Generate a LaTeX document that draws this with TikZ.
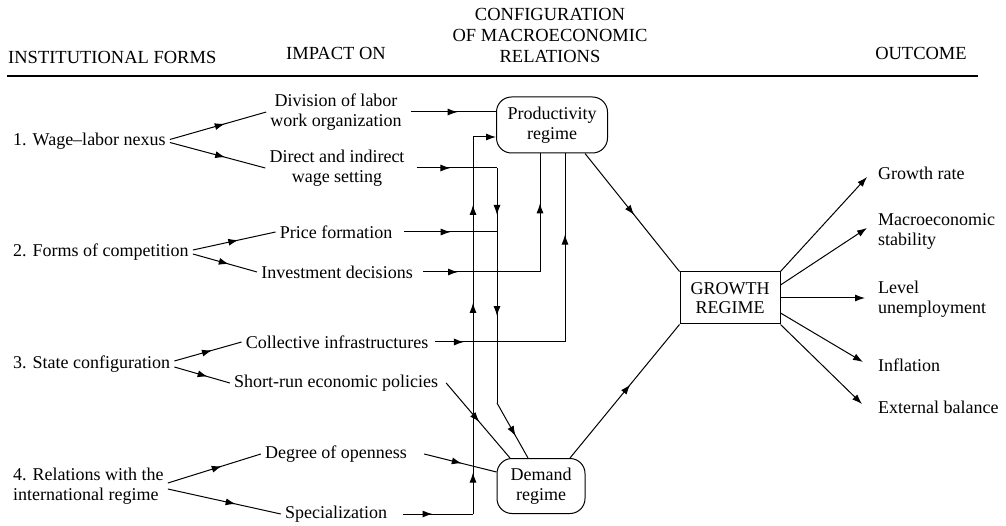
\documentclass[tikz,border=0pt]{standalone}
\usepackage{fontspec}
\setmainfont{Liberation Serif}
\newfontfamily\tms{Liberation Serif}
\usetikzlibrary{arrows.meta,decorations.markings,calc}
\newcommand{\myarrowtip}{\arrow{Latex[length=10pt,width=7pt]}}
\tikzset{
  hdr/.style={inner sep=0pt, font=\tms\fontsize{18.5}{21}\selectfont, align=center},
  lft/.style={inner xsep=4pt, inner ysep=0pt, anchor=west, align=left, font=\tms\fontsize{18}{20}\selectfont},
  mid/.style={inner xsep=4pt, inner ysep=0pt, align=center, font=\tms\fontsize{18}{20}\selectfont},
  outc/.style={inner sep=0pt, anchor=west, align=left, font=\tms\fontsize{18}{20}\selectfont},
  regime/.style={draw, line width=1pt, rounded corners=15pt, align=center, inner sep=0pt, font=\tms\fontsize{18}{20}\selectfont},
  growthbox/.style={draw, line width=1pt, align=center, inner sep=0pt, minimum width=100pt, minimum height=52pt, font=\tms\fontsize{18}{19.5}\selectfont},
  conn/.style={line width=1pt},
  tipend/.style={-{Latex[length=10pt,width=7pt]}},
  midarr/.style={postaction={decorate},decoration={markings,mark=at position #1 with {\myarrowtip}}},
  midtwo/.style 2 args={postaction={decorate},decoration={markings,mark=at position #1 with {\myarrowtip},mark=at position #2 with {\myarrowtip}}},
  midthree/.style n args={3}{postaction={decorate},decoration={markings,mark=at position #1 with {\myarrowtip},mark=at position #2 with {\myarrowtip},mark=at position #3 with {\myarrowtip}}},
}
\begin{document}
\begin{tikzpicture}[x=1pt,y=-1pt]
\useasboundingbox (0,0) rectangle (1006,526);

% headers
\node[hdr,anchor=west] (hif) at (8,57) {INSTITUTIONAL FORMS};
\node[hdr] (himp) at (336,53) {IMPACT ON};
\node[hdr] (hcfg) at (550,35) {CONFIGURATION\\OF MACROECONOMIC\\RELATIONS};
\node[hdr] (hout) at (921,53) {OUTCOME};
\draw[line width=1.6pt] (7,76) -- (978,76);

% institutional forms
\node[lft] (n1) at (9,141) {1. Wage–labor nexus};
\node[lft] (n2) at (9,252) {2. Forms of competition};
\node[lft] (n3) at (9,364) {3. State configuration};
\node[lft] (n4) at (9,486) {4. Relations with the\\international regime};

% impact on
\node[mid] (dl) at (336,112) {Division of labor\\work organization};
\node[mid] (dw) at (337,168) {Direct and indirect\\wage setting};
\node[mid] (pf) at (336,232) {Price formation};
\node[mid] (id) at (337,272) {Investment decisions};
\node[mid] (ci) at (337,342) {Collective infrastructures};
\node[mid] (sr) at (336,383) {Short-run economic policies};
\node[mid] (deg) at (336,454) {Degree of openness};
\node[mid] (sp) at (336,514) {Specialization};

% regimes
\node[regime, minimum width=111pt, minimum height=56pt] (prod) at (552,125) {Productivity\\regime};
\node[regime, minimum width=88pt, minimum height=55pt] (dem) at (541,486) {Demand\\regime};
\node[growthbox] (gr) at (730,298) {GROWTH\\REGIME};

% outcomes
\node[outc] (o1) at (878,173) {Growth rate};
\node[outc] (o2) at (878,231) {Macroeconomic\\stability};
\node[outc] (o3) at (878,299) {Level\\unemployment};
\node[outc] (o4) at (878,365) {Inflation};
\node[outc] (o5) at (878,407) {External balance};

% bend points and arrow ends
\coordinate (c1) at (497,168);
\coordinate (c2) at (497,403);
\coordinate (c3) at (473,514);
\coordinate (c4) at (473,137);
\coordinate (c5) at (540,272);
\coordinate (c6) at (565,342);
\coordinate (t1) at (867,177);
\coordinate (t2) at (867,228);
\coordinate (t3) at (865,298);
\coordinate (t4) at (863,362);
\coordinate (t5) at (862,404);

% fans from institutional forms
\draw[conn,midarr=0.57] ([yshift=1.5]n1.east) -- (dl.west);
\draw[conn,midarr=0.58] ([yshift=-1.5]n1.east) -- (dw.west);
\draw[conn,midarr=0.55] ([yshift=2]n2.east) -- (pf.west);
\draw[conn,midarr=0.56] ([yshift=-2]n2.east) -- (id.west);
\draw[conn,midarr=0.56] ([yshift=3]n3.east) -- (ci.west);
\draw[conn,midarr=0.6] ([yshift=-3]n3.east) -- (sr.west);
\draw[conn,midarr=0.58] ([yshift=3]n4.east) -- (deg.west);
\draw[conn,midarr=0.6] ([yshift=-3]n4.east) -- (sp.west);

% impact on -> regimes
\draw[conn,midarr=0.55] ([xshift=5]dl.east) -- (dl.east -| prod.west);
\draw[conn,midarr=0.42] ([xshift=8]dw.east) -- (c1);
\draw[conn,midtwo={0.2}{0.63}] (c1) -- (c2);
\draw[conn,midarr=0.6] (c2) -- ([xshift=-13]dem.north);
\draw[conn,midarr=0.5] ([xshift=8]pf.east) -- (pf.east -| c1);
\draw[conn,midarr=0.3] ([xshift=6]id.east) -- (c5);
\draw[conn,midarr=0.58] (c5) -- (c5 |- prod.south);
\draw[conn,midarr=0.22] ([xshift=3]ci.east) -- (c6);
\draw[conn,midarr=0.57] (c6) -- (c6 |- prod.south);
\draw[conn,midarr=0.52] ([xshift=4]sr.east) -- ([xshift=-31]dem.north);
\draw[conn,midarr=0.52] ([xshift=13]deg.east) -- ([yshift=14]dem.west);
\draw[conn,midarr=0.42] ([xshift=12]sp.east) -- (c3);
\draw[conn,midthree={0.11}{0.56}{0.82}] (c3) -- (c4);
\draw[conn,tipend] (c4) -- (c4 -| prod.west);

% regimes -> growth
\draw[conn,midarr=0.52] ([xshift=33]prod.south) -- (gr.north west);
\draw[conn,midarr=0.55] ([xshift=29]dem.north) -- (gr.south west);

% growth -> outcomes
\draw[conn,tipend] (gr.north east) -- (t1);
\draw[conn,tipend] ([yshift=13]gr.east) -- (t2);
\draw[conn,tipend] (gr.east) -- (t3);
\draw[conn,tipend] ([yshift=-15]gr.east) -- (t4);
\draw[conn,tipend] (gr.south east) -- (t5);
\end{tikzpicture}
\end{document}
